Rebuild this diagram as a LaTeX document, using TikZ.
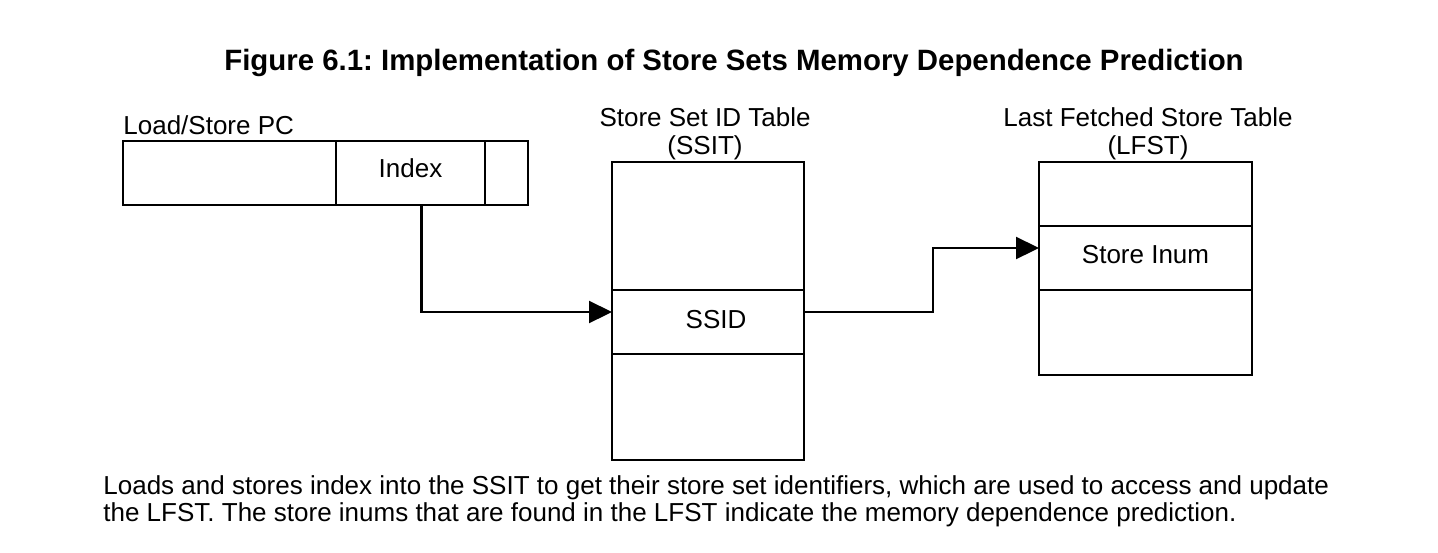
\documentclass[tikz,border=0pt]{standalone}
\usepackage{fontspec}
\setmainfont{Liberation Sans}
\usetikzlibrary{arrows.meta,calc}
\frenchspacing
\begin{document}
\begin{tikzpicture}[x=0.5pt,y=-0.5pt,
  cell/.style={draw=black,line width=1.1pt,inner sep=0pt,outer sep=0pt},
  lbl/.style={inner sep=0pt,font=\fontsize{13}{14}\selectfont,align=center},
  arr/.style={line width=1.1pt,-{Triangle[length=11.5pt,width=11pt]}}]
\useasboundingbox (0,0) rectangle (1438,552);
\node[font=\bfseries\fontsize{14.7}{16}\selectfont,inner sep=0pt] (title) at (734,63) {Figure 6.1: Implementation of Store Sets Memory Dependence Prediction};
% Load/Store PC
\node[lbl,anchor=west] (pclbl) at (123,125) {Load/Store PC};
\node[cell,minimum width=202.5pt,minimum height=32pt] (pc) at (325.5,173) {};
\node[cell,line width=1.4pt,minimum width=74.5pt,minimum height=32pt] (idx) at (410.5,173) {};
\node[lbl] (idxt) at (410.5,168) {Index};
% SSIT
\node[lbl] (ssitlbl) at (705,134) {Store Set ID Table\\(SSIT)};
\node[cell,minimum width=96pt,minimum height=64pt] (s1) at (708,226) {};
\node[cell,minimum width=96pt,minimum height=32pt] (ssid) at (708,322) {};
\node[cell,minimum width=96pt,minimum height=53pt] (s3) at (708,407) {};
\node[lbl] (ssidt) at (716,320) {SSID};
% LFST
\node[lbl] (lfstlbl) at (1148,134) {Last Fetched Store Table\\(LFST)};
\node[cell,minimum width=106.5pt,minimum height=32pt] (l1) at (1145.5,194) {};
\node[cell,minimum width=106.5pt,minimum height=32pt] (inum) at (1145.5,258) {};
\node[cell,minimum width=106.5pt,minimum height=42.5pt] (l3) at (1145.5,332.5) {};
\node[lbl] (inumt) at (1145.5,255) {Store Inum};
% arrows
\draw[arr] ($(idx.south)+(11,0)$) |- ($(ssid.west)+(0,-10)$);
\draw[arr] ($(ssid.east)+(0,-10)$) -- ++(129,0) |- ($(inum.west)+(0,-10)$);
% caption
\node[lbl,anchor=north west,align=left,font=\fontsize{13}{13.6}\selectfont] (cap) at (103,475) {Loads and stores index into the SSIT to get their store set identifiers, which are used to access and update\\the LFST. The store inums that are found in the LFST indicate the memory dependence prediction.};
\end{tikzpicture}
\end{document}
